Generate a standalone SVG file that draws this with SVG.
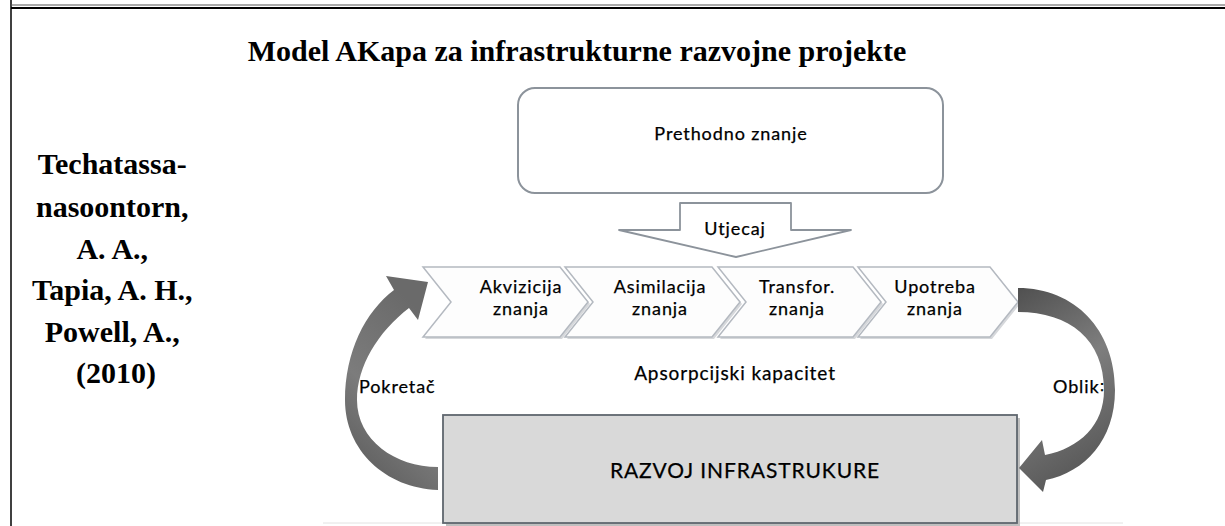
<svg xmlns="http://www.w3.org/2000/svg" width="1225" height="526" viewBox="0 0 1225 526">
<defs>
<style>
.serif{font-family:"Liberation Serif","Times New Roman",serif;font-weight:bold;fill:#000}
.sans{font-family:Lato,"Liberation Sans",Arial,sans-serif;fill:#000;stroke:#000;stroke-width:0.25;letter-spacing:0.9px}
.chev{fill:#fdfdfd;stroke:#b4b9c0;stroke-width:1.5}
.shadow{fill:#d6d8db}
</style>
<linearGradient id="arrowL" x1="0" y1="1" x2="0.4" y2="0">
<stop offset="0" stop-color="#555555"/>
<stop offset="0.5" stop-color="#7c7c7c"/>
<stop offset="1" stop-color="#6a6a6a"/>
</linearGradient>
<linearGradient id="arrowR" x1="0" y1="0" x2="0.3" y2="1">
<stop offset="0" stop-color="#505050"/>
<stop offset="0.5" stop-color="#7e7e7e"/>
<stop offset="1" stop-color="#5a5a5a"/>
</linearGradient>
</defs>
<rect width="1225" height="526" fill="#ffffff"/>

<g id="frame">
<line x1="11" y1="0" x2="11" y2="526" stroke="#000" stroke-width="1.5"/>
<line x1="11" y1="5" x2="1225" y2="5" stroke="#555" stroke-width="1"/>
<line x1="11" y1="8" x2="1225" y2="8" stroke="#000" stroke-width="2"/>
<line x1="323" y1="523" x2="1123" y2="523" stroke="#e2e2e2" stroke-width="1"/>
</g>

<g id="title">
<text class="serif" x="577" y="61" font-size="30" text-anchor="middle">Model AKapa za infrastrukturne razvojne projekte</text>
</g>

<g id="citation">
<text class="serif" font-size="30" text-anchor="middle">
<tspan x="116" y="174">Techatassa-</tspan>
<tspan x="116" y="217">nasoontorn,</tspan>
<tspan x="116" y="259">A. A.,</tspan>
<tspan x="116" y="300">Tapia, A. H.,</tspan>
<tspan x="116" y="342">Powell, A.,</tspan>
<tspan x="116" y="383">(2010)</tspan>
</text>
</g>

<g id="prethodno">
<rect x="518" y="88" width="425" height="105" rx="17" fill="#ffffff" stroke="#8c939b" stroke-width="2"/>
<text class="sans" x="731" y="140" font-size="18" text-anchor="middle">Prethodno znanje</text>
</g>

<g id="utjecaj">
<polygon points="680,203 791,203 791,230 851,230 736,257 619,230 680,230" fill="#ffffff" stroke="#8c939b" stroke-width="1.8" stroke-linejoin="round"/>
<text class="sans" x="735" y="235" font-size="18" text-anchor="middle">Utjecaj</text>
</g>

<g id="chevrons">
<g id="akvizicija">
<polygon class="shadow" points="425,269 562,269 590,304 562,339 425,339 453,304"/>
<polygon class="chev" points="423,267 560,267 588,302 560,337 423,337 451,302"/>
<text class="sans" x="521" y="293" font-size="18" text-anchor="middle">Akvizicija</text>
<text class="sans" x="521" y="315" font-size="18" text-anchor="middle">znanja</text>
</g>
<g id="asimilacija">
<polygon class="shadow" points="567,269 714,269 742,304 714,339 567,339 595,304"/>
<polygon class="chev" points="565,267 712,267 740,302 712,337 565,337 593,302"/>
<text class="sans" x="660" y="293" font-size="18" text-anchor="middle">Asimilacija</text>
<text class="sans" x="660" y="315" font-size="18" text-anchor="middle">znanja</text>
</g>
<g id="transfor">
<polygon class="shadow" points="720,269 855,269 883,304 855,339 720,339 748,304"/>
<polygon class="chev" points="718,267 853,267 881,302 853,337 718,337 746,302"/>
<text class="sans" x="797" y="293" font-size="18" text-anchor="middle">Transfor.</text>
<text class="sans" x="797" y="315" font-size="18" text-anchor="middle">znanja</text>
</g>
<g id="upotreba">
<polygon class="shadow" points="860,269 992,269 1020,304 992,339 860,339 888,304"/>
<polygon class="chev" points="858,267 990,267 1018,302 990,337 858,337 886,302"/>
<text class="sans" x="935" y="293" font-size="18" text-anchor="middle">Upotreba</text>
<text class="sans" x="935" y="315" font-size="18" text-anchor="middle">znanja</text>
</g>
</g>

<g id="apsorpcijski">
<text class="sans" x="735" y="380" font-size="19" text-anchor="middle">Apsorpcijski kapacitet</text>
</g>

<g id="razvoj">
<rect x="446" y="418" width="574" height="108" fill="#bfbfbf"/>
<rect x="443" y="415" width="574" height="108" fill="#d9d9d9" stroke="#5f666e" stroke-width="1.8"/>
<text class="sans" x="745" y="478" font-size="21" text-anchor="middle">RAZVOJ INFRASTRUKURE</text>
</g>

<g id="connectors">
<path id="pokretac-arrow" d="M 438,490 C 385,488 345,450 345,400 C 345,352 365,312 394,290 L 386,276 L 428,282 L 418,320 L 409,308 C 378,332 357,366 357,400 C 357,440 395,467 438,467 Z" fill="url(#arrowL)"/>
<path id="oblik-arrow" d="M 1018,288 C 1075,288 1115,330 1115,390 C 1115,440 1085,472 1046,480 L 1043,492 L 1019,468 L 1042,440 L 1045,455 C 1080,448 1104,425 1104,390 C 1104,340 1070,312 1018,312 Z" fill="url(#arrowR)"/>
</g>

<g id="labels">
<text class="sans" x="359" y="393" font-size="18">Pokretač</text>
<text class="sans" x="1053" y="393" font-size="18">Oblik꞉</text>
</g>
</svg>
